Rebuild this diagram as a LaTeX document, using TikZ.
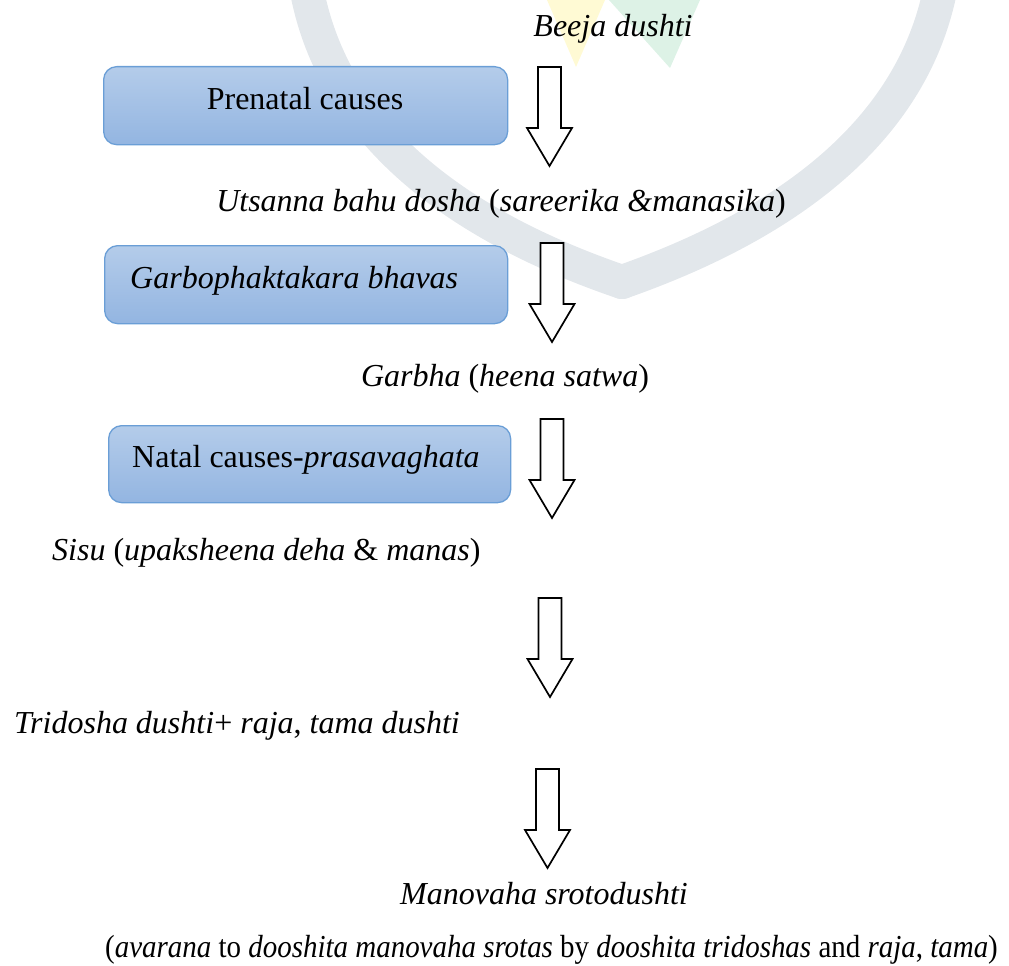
\documentclass[tikz,border=0pt]{standalone}
\usepackage{fontspec}
\setmainfont{Liberation Serif}
\definecolor{boxtop}{HTML}{B4CCEA}
\definecolor{boxbot}{HTML}{93B5E1}
\definecolor{boxline}{HTML}{6A9ED6}
\definecolor{wmgray}{HTML}{E2E7EB}
\definecolor{wmyellow}{HTML}{FFFAD4}
\definecolor{wmgreen}{HTML}{DDF2E6}
\newcommand{\blockarrow}[3]{%
  \coordinate (#1top) at (#2,#3);
  \coordinate (#1tip) at (#2,#3+99);
  \draw[barrow] (#2-11.5,#3) -- (#2+11.5,#3) -- (#2+11.5,#3+61) -- (#2+22.5,#3+61)
    -- (#1tip) -- (#2-22.5,#3+61) -- (#2-11.5,#3+61) -- cycle;}
\begin{document}
\begin{tikzpicture}[x=1pt,y=-1pt,
  txt/.style={inner sep=0pt, font=\fontsize{32}{38}\selectfont},
  cbox/.style={rounded corners=13pt, draw=boxline, line width=1.3pt,
    top color=boxtop, bottom color=boxbot, inner sep=0pt},
  barrow/.style={draw=black, line width=1.7pt, fill=white, line join=miter},
  wm/.style={draw=wmgray, line cap=round}]
\useasboundingbox (0,0) rectangle (1009,966);
% faint watermark
\fill[wmyellow] (547,0) -- (605,0) -- (576,67) -- cycle;
\fill[wmgreen] (609,0) -- (700,0) -- (670,68) -- cycle;
\draw[wm, line width=34pt] (305,-20) .. controls (330,140) and (470,230) .. (622,282);
\draw[wm, line width=34pt] (942,-20) .. controls (915,140) and (770,230) .. (622,282);
% boxes
\node[cbox, anchor=north west, minimum width=404pt, minimum height=78pt] (b1) at (103,66) {};
\node[cbox, anchor=north west, minimum width=403pt, minimum height=78pt] (b2) at (104,245) {};
\node[cbox, anchor=north west, minimum width=402pt, minimum height=77pt] (b3) at (108,425) {};
\node[txt, anchor=base] (t1) at (305,109) {Prenatal causes};
\node[txt, anchor=base west] (t2) at (130,288) {\itshape Garbophaktakara bhavas};
\node[txt, anchor=base west] (t3) at (132,467) {Natal causes-\textit{prasavaghata}};
% flow texts
\node[txt, anchor=base] (s0) at (613,37) {\textit{Beeja dushti}};
\node[txt, anchor=base] (s1) at (501,211) {\textit{Utsanna bahu dosha} (\textit{sareerika \&manasika})};
\node[txt, anchor=base] (s2) at (505,386) {\textit{Garbha} (\textit{heena satwa})};
\node[txt, anchor=base west] (s3) at (52,560) {\textit{Sisu} (\textit{upaksheena deha} \& \textit{manas})};
\node[txt, anchor=base west] (s4) at (14,733) {\textit{Tridosha dushti}+ \textit{raja}, \textit{tama dushti}};
\node[txt, anchor=base] (s5) at (544,904) {\textit{Manovaha srotodushti}};
\node[txt, anchor=base west] (s6) at (105,957) {\scalebox{0.905}[1]{(\textit{avarana} to \textit{dooshita manovaha srotas} by \textit{dooshita tridoshas} and \textit{raja}, \textit{tama})}};
% block arrows
\blockarrow{a1}{549.5}{67}
\blockarrow{a2}{552}{243}
\blockarrow{a3}{552}{419}
\blockarrow{a4}{550}{598}
\blockarrow{a5}{547.5}{769}
\end{tikzpicture}
\end{document}
